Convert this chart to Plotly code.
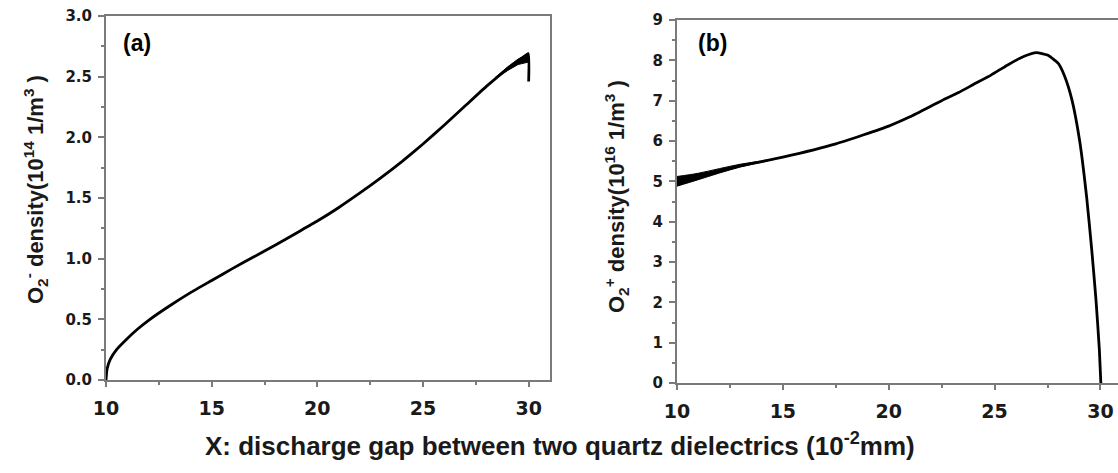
import plotly.graph_objects as go

# ---- panel (a): O2- density, 10^14 1/m^3 ----
xa = [10.0, 10.05, 10.2, 10.5, 11.0, 11.5, 12.0, 13.0, 14.0, 15.0, 16.0, 17.0,
      18.0, 19.0, 20.0, 21.0, 22.0, 23.0, 24.0, 25.0, 26.0, 27.0, 28.0, 29.0,
      29.6, 29.98, 30.0]
ya = [0.0, 0.09, 0.17, 0.25, 0.34, 0.42, 0.49, 0.61, 0.72, 0.82, 0.92, 1.015,
      1.11, 1.21, 1.31, 1.42, 1.54, 1.665, 1.80, 1.945, 2.10, 2.26, 2.42, 2.565,
      2.64, 2.69, 2.46]
# oscillation envelope near the right electrode
xa_band = [28.4, 29.0, 29.5, 29.98]
ya_hi = [2.49, 2.58, 2.645, 2.69]
ya_lo = [2.48, 2.55, 2.60, 2.62]

# ---- panel (b): O2+ density, 10^16 1/m^3 ----
xb = [10.0, 11.0, 12.0, 13.0, 14.0, 15.0, 17.5, 20.0, 21.0, 22.5, 23.3, 24.0,
      24.85, 25.6, 26.4, 26.97, 27.5, 28.0, 28.3, 28.64, 29.02, 29.35, 29.59,
      29.79, 29.95, 30.02]
yb = [5.0, 5.12, 5.26, 5.39, 5.49, 5.6, 5.93, 6.37, 6.6, 7.0, 7.2, 7.4,
      7.64, 7.88, 8.1, 8.19, 8.13, 7.93, 7.62, 7.05, 6.0, 4.6, 3.30,
      2.06, 0.82, 0.0]
# oscillation envelope near the left electrode
xb_band = [10.0, 11.0, 12.0, 13.0, 14.0, 15.0]
yb_hi = [5.12, 5.20, 5.315, 5.425, 5.505, 5.60]
yb_lo = [4.88, 5.04, 5.205, 5.355, 5.475, 5.60]

xticks = [10, 15, 20, 25, 30]

AXIS_GRAY = "#7a7a7a"
TXT = "#1a1a1a"
TICK_FONT_X = dict(family="DejaVu Sans", size=19, color=TXT, weight="bold")
TICK_FONT_Y = dict(family="DejaVu Sans", size=15, color=TXT, weight="bold")
LABEL_FONT = dict(family="Liberation Sans", size=22, color=TXT, weight="bold")

W, H = 1118, 473


def px_dom(a, b, total):
    return [a / total, b / total]


def py_dom(top, bottom):
    return [1 - bottom / H, 1 - top / H]


fig = go.Figure()

# panel (a)
fig.add_trace(go.Scatter(x=xa_band, y=ya_hi, mode="lines",
                         line=dict(color="black", width=1),
                         xaxis="x", yaxis="y", showlegend=False))
fig.add_trace(go.Scatter(x=xa_band, y=ya_lo, mode="lines", fill="tonexty",
                         fillcolor="black", line=dict(color="black", width=1),
                         xaxis="x", yaxis="y", showlegend=False))
fig.add_trace(go.Scatter(x=xa, y=ya, mode="lines",
                         line=dict(color="black", width=2.8, shape="spline",
                                   smoothing=0.4),
                         xaxis="x", yaxis="y", showlegend=False))

# panel (b)
fig.add_trace(go.Scatter(x=xb_band, y=yb_hi, mode="lines",
                         line=dict(color="black", width=1, shape="spline"),
                         xaxis="x2", yaxis="y2", showlegend=False))
fig.add_trace(go.Scatter(x=xb_band, y=yb_lo, mode="lines", fill="tonexty",
                         fillcolor="black",
                         line=dict(color="black", width=1, shape="spline"),
                         xaxis="x2", yaxis="y2", showlegend=False))
fig.add_trace(go.Scatter(x=xb, y=yb, mode="lines",
                         line=dict(color="black", width=2.8, shape="spline",
                                   smoothing=0.5),
                         xaxis="x2", yaxis="y2", showlegend=False))

common_x = dict(
    tickvals=xticks, ticks="outside", ticklen=5, tickwidth=2,
    tickcolor=AXIS_GRAY, showline=True, linecolor=AXIS_GRAY, linewidth=2,
    showgrid=False, zeroline=False, tickfont=TICK_FONT_X, automargin=False,
    ticklabelstandoff=5,
    minor=dict(dtick=2.5, tick0=10, ticks="outside", ticklen=3, tickwidth=2,
               tickcolor=AXIS_GRAY, showgrid=False),
)
common_y = dict(
    ticks="outside", ticklen=6, tickwidth=2, tickcolor=AXIS_GRAY,
    showline=True, linecolor=AXIS_GRAY, linewidth=2, showgrid=False,
    zeroline=False, tickfont=TICK_FONT_Y, automargin=False,
    ticklabelstandoff=3,
)


def label(text, x, y, font, angle=0):
    return dict(text=text, x=x / W, y=1 - y / H, xref="paper", yref="paper",
                xanchor="center", yanchor="middle", textangle=angle,
                showarrow=False, font=font)


PANEL_FONT = dict(family="Liberation Sans", size=23, color="black",
                  weight="bold")

fig.update_layout(
    width=W, height=H,
    margin=dict(l=0, r=0, t=0, b=0, autoexpand=False),
    paper_bgcolor="white", plot_bgcolor="white",
    xaxis=dict(domain=px_dom(106, 550, W), range=[10, 31.01], anchor="y",
               mirror=True, **common_x),
    yaxis=dict(domain=py_dom(16, 380), range=[0, 3.0], anchor="x",
               dtick=0.5, tickformat=".1f", mirror=True,
               minor=dict(dtick=0.25, ticks="outside", ticklen=3, tickwidth=2,
                          tickcolor=AXIS_GRAY, showgrid=False),
               **common_y),
    xaxis2=dict(domain=px_dom(677, 1118, W), range=[10, 30.83], anchor="y2",
                mirror=True, **common_x),
    yaxis2=dict(domain=py_dom(20, 383), range=[0, 9], anchor="x2",
                dtick=1, mirror=False,
                minor=dict(dtick=0.5, ticks="outside", ticklen=3, tickwidth=2,
                           tickcolor=AXIS_GRAY, showgrid=False),
                **common_y),
    annotations=[
        label("(a)", 137, 43, PANEL_FONT),
        label("(b)", 712, 43, PANEL_FONT),
        label("O<sub>2</sub><sup>-</sup> density(10<sup>14</sup> 1/m<sup>3</sup> )",
              35, 190, LABEL_FONT, -90),
        label("O<sub>2</sub><sup>+</sup> density(10<sup>16</sup> 1/m<sup>3</sup> )",
              616, 196, LABEL_FONT, -90),
        label("X: discharge gap between two quartz dielectrics (10<sup>-2</sup>mm)",
              560, 444,
              dict(family="Liberation Sans", size=26, color=TXT,
                   weight="bold")),
    ],
)

fig.write_html("out.html")
